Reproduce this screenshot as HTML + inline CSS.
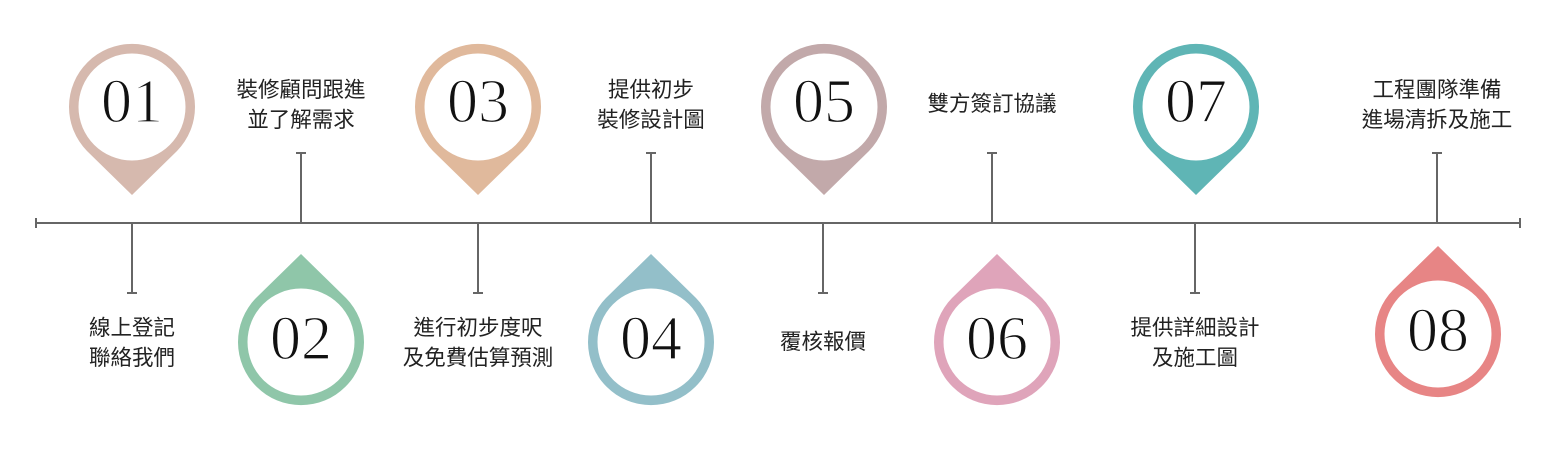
<!DOCTYPE html>
<html><head><meta charset="utf-8"><style>
html,body{margin:0;padding:0;background:#fff;}
svg{display:block}
.n{font-family:"Liberation Serif",serif;font-size:62px;fill:#111;text-anchor:middle;stroke:#fff;stroke-width:1.3px;}
.t{font-family:"Liberation Sans","Noto Sans CJK TC",sans-serif;font-size:21.5px;fill:#222;text-anchor:middle;}
</style></head><body>
<svg width="1551" height="450" viewBox="0 0 1551 450" xmlns="http://www.w3.org/2000/svg">
<defs>
<path id="pu" d="M0,88 L-45,44 A63,63 0 1 1 45,44 Z"/>
<path id="pd" d="M0,-88 L-45,-44 A63,63 0 1 0 45,-44 Z"/>
</defs>
<g stroke="#666" stroke-width="2" fill="none">
<line x1="36" y1="223" x2="1520" y2="223"/>
<line x1="36" y1="218" x2="36" y2="228"/>
<line x1="1520" y1="218" x2="1520" y2="228"/>
<line x1="132" y1="223" x2="132" y2="293"/><line x1="127" y1="293" x2="137" y2="293"/>
<line x1="301" y1="223" x2="301" y2="153"/><line x1="296" y1="153" x2="306" y2="153"/>
<line x1="478" y1="223" x2="478" y2="293"/><line x1="473" y1="293" x2="483" y2="293"/>
<line x1="651" y1="223" x2="651" y2="153"/><line x1="646" y1="153" x2="656" y2="153"/>
<line x1="823" y1="223" x2="823" y2="293"/><line x1="818" y1="293" x2="828" y2="293"/>
<line x1="992" y1="223" x2="992" y2="153"/><line x1="987" y1="153" x2="997" y2="153"/>
<line x1="1195" y1="223" x2="1195" y2="293"/><line x1="1190" y1="293" x2="1200" y2="293"/>
<line x1="1437" y1="223" x2="1437" y2="153"/><line x1="1432" y1="153" x2="1442" y2="153"/>
</g>
<g transform="translate(132,107)"><use href="#pu" fill="#d6b9ae"/><circle r="53.5" fill="#fff"/><text class="n" y="15">01</text></g>
<g transform="translate(478,107)"><use href="#pu" fill="#e0b99c"/><circle r="53.5" fill="#fff"/><text class="n" y="15">03</text></g>
<g transform="translate(824,107)"><use href="#pu" fill="#c2a9aa"/><circle r="53.5" fill="#fff"/><text class="n" y="15">05</text></g>
<g transform="translate(1196,107)"><use href="#pu" fill="#5fb5b5"/><circle r="53.5" fill="#fff"/><text class="n" y="15">07</text></g>
<g transform="translate(301,342)"><use href="#pd" fill="#8fc6a9"/><circle r="53.5" fill="#fff"/><text class="n" y="17">02</text></g>
<g transform="translate(651,342)"><use href="#pd" fill="#93bfc9"/><circle r="53.5" fill="#fff"/><text class="n" y="17">04</text></g>
<g transform="translate(997,342)"><use href="#pd" fill="#dfa4ba"/><circle r="53.5" fill="#fff"/><text class="n" y="17">06</text></g>
<g transform="translate(1438,334)"><use href="#pd" fill="#e78585"/><circle r="53.5" fill="#fff"/><text class="n" y="17">08</text></g>
<text class="t" x="132" y="335">線上登記</text><text class="t" x="132" y="365">聯絡我們</text>
<text class="t" x="301" y="97">裝修顧問跟進</text><text class="t" x="301" y="127">並了解需求</text>
<text class="t" x="478" y="335">進行初步度呎</text><text class="t" x="478" y="365">及免費估算預測</text>
<text class="t" x="651" y="97">提供初步</text><text class="t" x="651" y="127">裝修設計圖</text>
<text class="t" x="823" y="349">覆核報價</text>
<text class="t" x="992" y="111">雙方簽訂協議</text>
<text class="t" x="1195" y="335">提供詳細設計</text><text class="t" x="1195" y="365">及施工圖</text>
<text class="t" x="1437" y="97">工程團隊準備</text><text class="t" x="1437" y="127">進場清拆及施工</text>
</svg>
</body></html>
